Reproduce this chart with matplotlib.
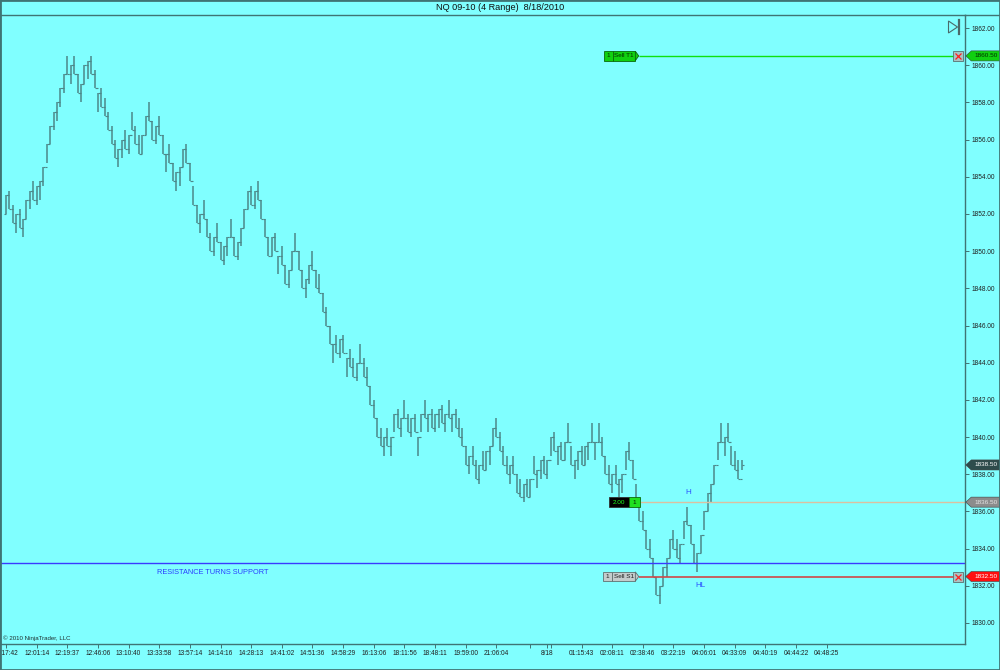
import numpy as np
import matplotlib
matplotlib.use("Agg")
import matplotlib.pyplot as plt
from matplotlib.patches import Polygon, Rectangle
from matplotlib.lines import Line2D
from matplotlib.transforms import blended_transform_factory

plt.rcParams['font.family'] = ['Liberation Sans', 'DejaVu Sans']

title = "NQ 09-10 (4 Range)  8/18/2010"
bar_range = 1.0  # 4 Range = 4 ticks of 0.25

# bar highs, one per range bar
highs = [
    1853.0, 1853.25, 1852.5, 1852.0, 1852.25, 1851.75, 1852.75, 1853.25, 1853.75, 1853.5,
    1853.75, 1854.5, 1855.75, 1856.75, 1857.5, 1858.0, 1858.75, 1859.5, 1860.5, 1860.0,
    1860.5, 1859.5, 1859.0, 1860.0, 1860.25, 1860.5, 1859.75, 1858.5, 1858.75, 1858.25,
    1857.5, 1856.75, 1856.0, 1855.5, 1856.0, 1856.5, 1856.25, 1857.5, 1856.75, 1856.25,
    1856.25, 1857.25, 1858.0, 1857.0, 1856.75, 1857.25, 1856.25, 1855.25, 1855.75, 1854.75,
    1854.25, 1854.5, 1855.5, 1855.75, 1854.75, 1853.5, 1852.5, 1852.0, 1852.75, 1851.75,
    1851.0, 1850.75, 1851.5, 1850.5, 1850.25, 1850.75, 1851.75, 1850.75, 1850.5, 1851.25,
    1852.25, 1853.25, 1853.5, 1853.25, 1853.75, 1852.75, 1851.75, 1850.75, 1850.75, 1851.0,
    1849.75, 1850.25, 1849.25, 1849.0, 1850.0, 1851.0, 1850.0, 1849.0, 1848.5, 1849.25,
    1850.0, 1849.0, 1848.75, 1847.75, 1847.0, 1846.0, 1845.0, 1845.5, 1845.25, 1845.5,
    1844.25, 1844.75, 1844.25, 1844.0, 1845.0, 1844.25, 1843.75, 1842.75, 1842.0, 1841.0,
    1840.5, 1840.0, 1840.5, 1840.0, 1841.25, 1841.5, 1841.0, 1842.0, 1841.25, 1841.0,
    1841.25, 1840.0, 1841.25, 1842.0, 1841.25, 1841.5, 1841.25, 1841.5, 1841.75, 1841.25,
    1842.0, 1841.25, 1841.5, 1841.0, 1840.5, 1839.5, 1839.0, 1839.5, 1838.75, 1838.5,
    1839.25, 1839.25, 1839.5, 1840.5, 1841.0, 1840.25, 1839.5, 1839.0, 1838.5, 1839.0,
    1838.0, 1837.75, 1837.5, 1837.75, 1837.75, 1839.0, 1838.25, 1838.75, 1839.0, 1838.75,
    1840.0, 1840.25, 1839.5, 1839.75, 1839.75, 1840.75, 1839.5, 1838.75, 1839.25, 1839.5,
    1839.5, 1839.75, 1840.75, 1839.75, 1840.75, 1840.0, 1839.0, 1838.5, 1838.0, 1838.5,
    1837.75, 1838.0, 1839.25, 1839.75, 1838.75, 1837.5, 1836.5, 1836.0, 1835.0, 1834.5,
    1833.5, 1832.5, 1832.0, 1833.0, 1833.5, 1834.5, 1835.0, 1834.5, 1834.25, 1835.5,
    1836.25, 1835.25, 1834.25, 1833.75, 1834.75, 1836.0, 1837.0, 1837.5, 1838.5, 1839.75,
    1840.75, 1840.0, 1840.75, 1839.5, 1839.25, 1838.75, 1838.75,
]
last_low = 1838.25     # current bar still forming
last_price = 1838.50

tick_bars = [0, 9, 18, 27, 36, 45, 54, 63, 72, 81, 90, 99, 108, 117, 126, 135, 144,
             154, 159, 160, 169, 178, 187, 196, 205, 214, 223, 232, 241]
tick_labels = ['11:17:42', '12:01:14', '12:19:37', '12:46:06', '13:10:40', '13:33:58',
               '13:57:14', '14:14:16', '14:28:13', '14:41:02', '14:51:36', '14:58:29',
               '16:13:06', '18:11:56', '18:48:11', '19:59:00', '21:06:04',
               '', '8/18', '', '01:15:43', '02:08:11', '02:38:46', '03:22:19',
               '04:06:01', '04:33:09', '04:40:19', '04:44:22', '04:48:25']

# orders / drawing objects
target_price = 1860.50
stop_price = 1832.50
entry_price = 1836.50
support_price = 1833.25
order_start = 185.8
position_text = "2.00"

bg = '#80ffff'
frame_col = '#3f7474'
bar_col = '#4d8789'

fig = plt.figure(figsize=(10, 6.7), dpi=100, facecolor=bg)
ax = fig.add_axes([0, 1 - 644 / 670, 0.965, 629 / 670], facecolor=bg)

# range bars
x = np.arange(len(highs))
hi = np.array(highs)
lo = hi - bar_range
lo[-1] = last_low
up_next = np.r_[hi[1:] > hi[:-1], False]
closes = np.where(up_next, hi, lo)
closes[-1] = last_price
opens = np.r_[lo[0], closes[:-1]]
ax.vlines(x, lo, hi, color=bar_col, lw=1.1)
ax.hlines(opens, x - 0.6, x, color=bar_col, lw=0.8)
ax.hlines(closes, x, x + 0.6, color=bar_col, lw=0.8)

xmax = 281.6
ax.set_xlim(-1.76, xmax)
ax.set_ylim(1828.87, 1862.70)

# support line + note
ax.axhline(support_price, color='#3a3aff', lw=1.0)
ax.text(44.3, 1832.74, "RESISTANCE TURNS SUPPORT", color='#2a3cff', fontsize=5.3,
        va='center', ha='left')
ax.text(200.2, 1837.0, "H", color='#2a50ff', fontsize=5.8, ha='center', va='center')
ax.text(204.0, 1832.0, "HL", color='#2a50ff', fontsize=5.8, ha='center', va='center')

# order lines
xbox = 279.5
ax.hlines(target_price, order_start, xbox, color='#10e010', lw=1.0)
ax.hlines(stop_price, order_start, xbox, color='#d04848', lw=1.2)
ax.hlines(entry_price, order_start + 0.3, xmax, color='#dcc0a0', lw=1.0)
for p in (target_price, stop_price):
    ax.plot(xbox, p, marker='s', ms=6.5, mfc='#a8c4c4', mec='#5a7070', mew=0.6,
            clip_on=False, zorder=5)
    ax.plot(xbox, p, marker='x', ms=4, mec='#ff2020', mew=0.9, clip_on=False, zorder=6)


def order_label(price, cells, tip):
    # cells: (start, end, face, edge, text, text colour)
    h = 0.25
    for (a, b, fc, ec, txt, tc) in cells:
        ax.add_patch(Rectangle((a, price - h), b - a, 2 * h, facecolor=fc, edgecolor=ec,
                               lw=0.6, zorder=6))
        ax.text((a + b) / 2, price, txt, color=tc, fontsize=4.6, ha='center',
                va='center', zorder=7)
    if tip:
        end = cells[-1][1]
        ax.add_patch(Polygon([(end, price - h), (end + 1.0, price), (end, price + h)],
                             closed=True, facecolor=cells[-1][2], edgecolor=cells[-1][3],
                             lw=0.6, zorder=6))


order_label(target_price, [(order_start - 10.2, order_start - 7.6, '#10d010', '#0a6a0a', '1', '#003000'),
                           (order_start - 7.6, order_start - 1.0, '#10d010', '#0a6a0a', 'Sell T1', '#003000')], True)
order_label(stop_price, [(order_start - 10.4, order_start - 7.8, '#c4cccc', '#607070', '1', '#202020'),
                         (order_start - 7.8, order_start - 1.0, '#c4cccc', '#607070', 'Sell S1', '#202020')], True)
order_label(entry_price, [(order_start - 8.8, order_start - 3.0, '#000000', '#303030', position_text, '#20ff20'),
                          (order_start - 3.0, order_start + 0.3, '#20e020', '#0a6a0a', '1', '#002000')], False)

# right axis price tags
tr = blended_transform_factory(ax.transAxes, ax.transData)


def price_tag(price, fc, tc):
    h = 0.27
    poly = Polygon([(1.0008, price), (1.0065, price + h), (1.037, price + h),
                    (1.037, price - h), (1.0065, price - h)], closed=True,
                   facecolor=fc, edgecolor='#404040', lw=0.4, transform=tr,
                   clip_on=False, zorder=8)
    ax.add_patch(poly)
    ax.text(1.022, price, f"{price:.2f}", color=tc, fontsize=4.6, ha='center',
            va='center', transform=tr, clip_on=False, zorder=9)


price_tag(target_price, '#10d010', '#003000')
price_tag(last_price, '#2e4c4c', '#ffffff')
price_tag(entry_price, '#8c8c8c', '#e4e4e4')
price_tag(stop_price, '#ff1010', '#ffffff')

# axes styling
for s in ax.spines.values():
    s.set_color(frame_col)
    s.set_linewidth(1.0)
ax.yaxis.tick_right()
ax.set_yticks(np.arange(1830, 1863, 2))
ax.set_yticklabels([f"{v:.2f}" for v in np.arange(1830, 1863, 2)])
ax.set_xticks(tick_bars)
ax.set_xticklabels(tick_labels)
ax.tick_params(axis='both', colors=frame_col, labelcolor='#202020', labelsize=4.7,
               length=3, width=0.7, pad=1.5)

ax.text(0.003, 0.004, "\u00a9 2010 NinjaTrader, LLC", transform=ax.transAxes,
        fontsize=4.4, color='#203030', ha='left', va='bottom')

# title, frame, chart-trader icon
fig.text(0.5, 1 - 8 / 670, title, ha='center', va='center', fontsize=6.6, color='#101010')
fig.add_artist(Line2D([0.965, 1.0], [1 - 15 / 670, 1 - 15 / 670], color=frame_col, lw=1.0))
fig.add_artist(Rectangle((0, 0), 1, 1, transform=fig.transFigure, fill=False,
                         edgecolor=frame_col, lw=2.0))
fig.add_artist(Polygon([(0.9485, 1 - 21 / 670), (0.9485, 1 - 33 / 670), (0.9575, 1 - 27 / 670)],
                       closed=True, fill=False, edgecolor='#4a6a6a', lw=0.8,
                       transform=fig.transFigure))
fig.add_artist(Line2D([0.9588, 0.9588], [1 - 20 / 670, 1 - 34 / 670], color='#4a6a6a', lw=1.6))

fig.savefig("out.png", dpi=100, facecolor=bg)
